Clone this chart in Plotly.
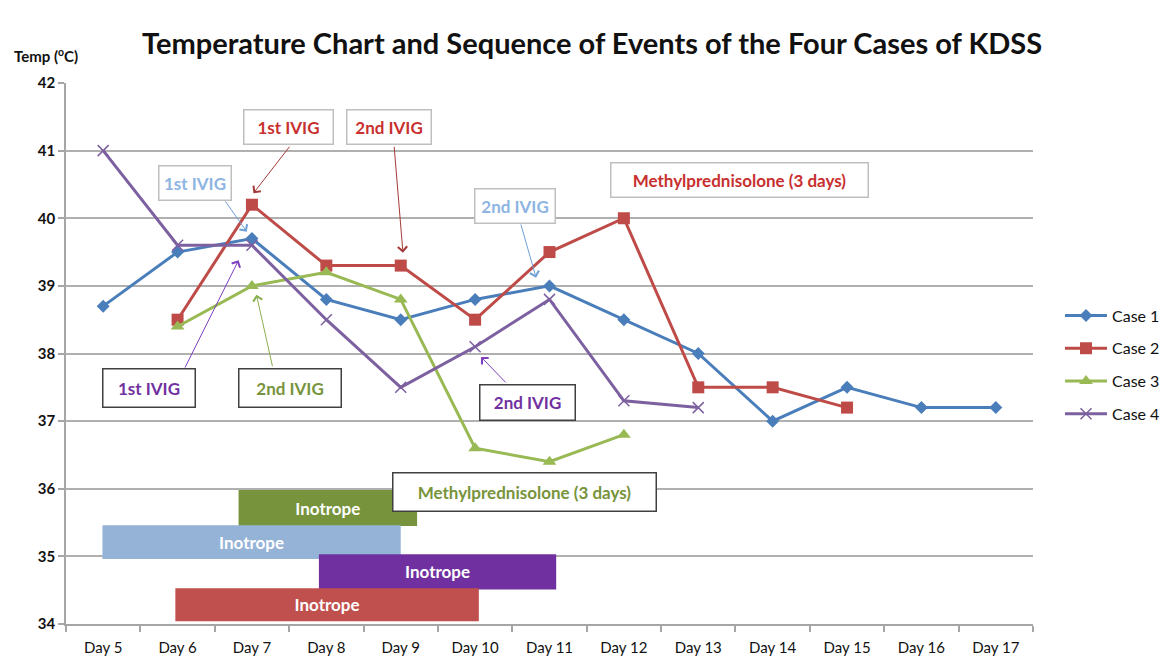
import plotly.graph_objects as go

# ---------------- data ----------------
day_nums = list(range(5, 18))
day_labels = [f"Day {d}" for d in day_nums]

case_names = ["Case 1", "Case 2", "Case 3", "Case 4"]
case1_days = [5, 6, 7, 8, 9, 10, 11, 12, 13, 14, 15, 16, 17]
case1_temp = [38.7, 39.5, 39.7, 38.8, 38.5, 38.8, 39.0, 38.5, 38.0, 37.0, 37.5, 37.2, 37.2]
case2_days = [6, 7, 8, 9, 10, 11, 12, 13, 14, 15]
case2_temp = [38.5, 40.2, 39.3, 39.3, 38.5, 39.5, 40.0, 37.5, 37.5, 37.2]
case3_days = [6, 7, 8, 9, 10, 11, 12]
case3_temp = [38.4, 39.0, 39.2, 38.8, 36.6, 36.4, 36.8]
case4_days = [5, 6, 7, 8, 9, 10, 11, 12, 13]
case4_temp = [41.0, 39.6, 39.6, 38.5, 37.5, 38.1, 38.8, 37.3, 37.2]

# Inotrope periods (day positions on the axis) and the temperature band they are drawn in
inotrope_case = ["Case 3", "Case 1", "Case 4", "Case 2"]
inotrope_start = [6.82, 4.99, 7.90, 5.97]
inotrope_end = [9.22, 9.00, 11.09, 10.05]
inotrope_band_mid = [35.715, 35.21, 34.77, 34.285]
inotrope_band_height = [0.53, 0.50, 0.52, 0.49]

y_ticks = [34, 35, 36, 37, 38, 39, 40, 41, 42]

# ---------------- styles ----------------
FONT = "Lato"
line_colors = {"Case 1": "#4A7EBB", "Case 2": "#BE4B48", "Case 3": "#98B954", "Case 4": "#7D60A0"}
bar_colors = {"Case 3": "#77933C", "Case 1": "#95B3D7", "Case 4": "#7030A0", "Case 2": "#C0504D"}
symbols = {"Case 1": "diamond", "Case 2": "square", "Case 3": "triangle-up", "Case 4": "x-thin"}
msizes = {"Case 1": 10, "Case 2": 12, "Case 3": 12, "Case 4": 11}

fig = go.Figure()

# inotrope bars
for name, s, e, m, h in zip(inotrope_case, inotrope_start, inotrope_end,
                            inotrope_band_mid, inotrope_band_height):
    fig.add_trace(go.Bar(
        orientation="h", y=[m], x=[e - s], base=[s], width=[h],
        marker=dict(color=bar_colors[name], line=dict(width=0)),
        text=["Inotrope"], textposition="inside", insidetextanchor="middle",
        textfont=dict(family=FONT, size=17, color="white", weight="bold"),
        showlegend=False, hoverinfo="skip",
    ))

series = [(case1_days, case1_temp), (case2_days, case2_temp),
          (case3_days, case3_temp), (case4_days, case4_temp)]
for i, (name, (dx, ty)) in enumerate(zip(case_names, series)):
    c = line_colors[name]
    marker = dict(symbol=symbols[name], size=msizes[name], color=c)
    if name == "Case 4":
        marker["line"] = dict(color=c, width=1.5)
    fig.add_trace(go.Scatter(
        x=dx, y=ty, mode="lines+markers", name=name,
        line=dict(color=c, width=3), marker=marker,
        legendgroup=name,
    ))

# ---------------- annotations ----------------
RED_T = "#C8302F"
BLUE_T = "#8DB4E2"
PURPLE_T = "#7030A0"
GREEN_T = "#77933C"

def box(text, x, y, color, w, h, border):
    fig.add_annotation(
        x=x, y=y, xref="x", yref="y", text=f"<b>{text}</b>", showarrow=False,
        font=dict(family=FONT, size=17, color=color),
        bgcolor="white", bordercolor=border, borderwidth=1.5, borderpad=1,
        width=w, height=h, xanchor="center", yanchor="middle",
    )

def arrow(tx, ty, hx, hy, color):
    fig.add_annotation(
        x=hx, y=hy, ax=tx, ay=ty, xref="x", yref="y", axref="x", ayref="y",
        text="", showarrow=True, arrowhead=4, arrowsize=1.8, arrowwidth=1,
        arrowcolor=color, standoff=0, startstandoff=0,
    )

LIGHT = "#BFBFBF"
DARK = "#404040"
# arrows (tail -> head)
arrow(7.52, 41.08, 7.02, 40.37, "#A33B38")
arrow(8.91, 41.08, 9.03, 39.49, "#A33B38")
arrow(6.63, 40.27, 6.93, 39.80, "#6FA0D8")
arrow(10.61, 39.93, 10.82, 39.12, "#6FA0D8")
arrow(6.09, 37.77, 6.82, 39.38, "#8040C0")
arrow(7.28, 37.79, 7.06, 38.87, "#8AAE50")
arrow(10.43, 37.55, 10.08, 37.95, "#8040C0")

box("1st IVIG", 7.49, 41.35, RED_T, 86, 31, LIGHT)
box("2nd IVIG", 8.84, 41.35, RED_T, 81, 31, LIGHT)
box("1st IVIG", 6.24, 40.52, BLUE_T, 69, 31, LIGHT)
box("Methylprednisolone (3 days)", 13.56, 40.57, RED_T, 254, 31, LIGHT)
box("2nd IVIG", 10.54, 40.18, BLUE_T, 77, 31, LIGHT)
box("1st IVIG", 5.61, 37.49, PURPLE_T, 89, 35, DARK)
box("2nd IVIG", 7.51, 37.49, GREEN_T, 99, 35, DARK)
box("2nd IVIG", 10.70, 37.27, PURPLE_T, 92, 32, DARK)
box("Methylprednisolone (3 days)", 10.66, 35.95, GREEN_T, 260, 35, DARK)

# page offset: the html body has an 8px margin, so the figure is drawn 8px in
OFF = 8
W, H = 1169 - OFF, 666 - OFF
L, R, T, B = 66 - OFF, 136, 83 - OFF, 42
PW, PH = W - L - R, H - T - B

def px_to_paper(px, py):
    # px, py are screen pixels of the reference
    fx = (px - OFF - L) / PW
    fy = (H - (py - OFF) - B) / PH
    return fx, fy

tx, ty = px_to_paper(592, 43)
fig.add_annotation(
    x=tx, y=ty, xref="paper", yref="paper", showarrow=False,
    text="<b>Temperature Chart and Sequence of Events of the Four Cases of KDSS</b>",
    font=dict(family=FONT, size=29, color="#111111"), xanchor="center", yanchor="middle",
)
lx, ly = px_to_paper(12, 55)
fig.add_annotation(
    x=lx, y=ly, xref="paper", yref="paper", showarrow=False,
    text="<b>Temp (<sup>o</sup>C)</b>",
    font=dict(family=FONT, size=15, color="#111111"), xanchor="left", yanchor="middle",
)
gx, gy = px_to_paper(1060, 365)

fig.update_layout(
    width=W, height=H,
    margin=dict(l=L, r=R, t=T, b=B, autoexpand=False),
    paper_bgcolor="white", plot_bgcolor="white",
    barmode="overlay",
    font=dict(family=FONT, color="#222222"),
    legend=dict(
        x=gx, y=gy, xanchor="left", yanchor="middle",
        font=dict(family=FONT, size=16, color="#111111"),
        tracegroupgap=9, traceorder="grouped", bgcolor="rgba(0,0,0,0)",
        itemwidth=42,
    ),
    showlegend=True,
)
fig.update_xaxes(
    automargin=False,
    range=[4.5, 17.5], tickmode="array", tickvals=day_nums, ticktext=day_labels,
    showgrid=False, zeroline=False, showline=True, linecolor="#A6A6A6", linewidth=1.5,
    ticks="", ticklabelstandoff=9,
    tickfont=dict(family=FONT, size=15, color="#111111"),
    minor=dict(tickmode="linear", tick0=4.5, dtick=1, ticks="outside", ticklen=6,
               tickcolor="#A6A6A6", tickwidth=1.5, showgrid=False),
)
fig.update_yaxes(
    automargin=False,
    range=[34, 42], tickmode="array", tickvals=y_ticks,
    showgrid=True, gridcolor="#B0B0B0", gridwidth=1.5, zeroline=False,
    showline=True, linecolor="#A6A6A6", linewidth=1.5,
    ticks="outside", ticklen=6, tickcolor="#A6A6A6", tickwidth=1.5,
    tickfont=dict(family=FONT, size=15, color="#111111", weight="bold"),
)

fig.write_html("out.html")
